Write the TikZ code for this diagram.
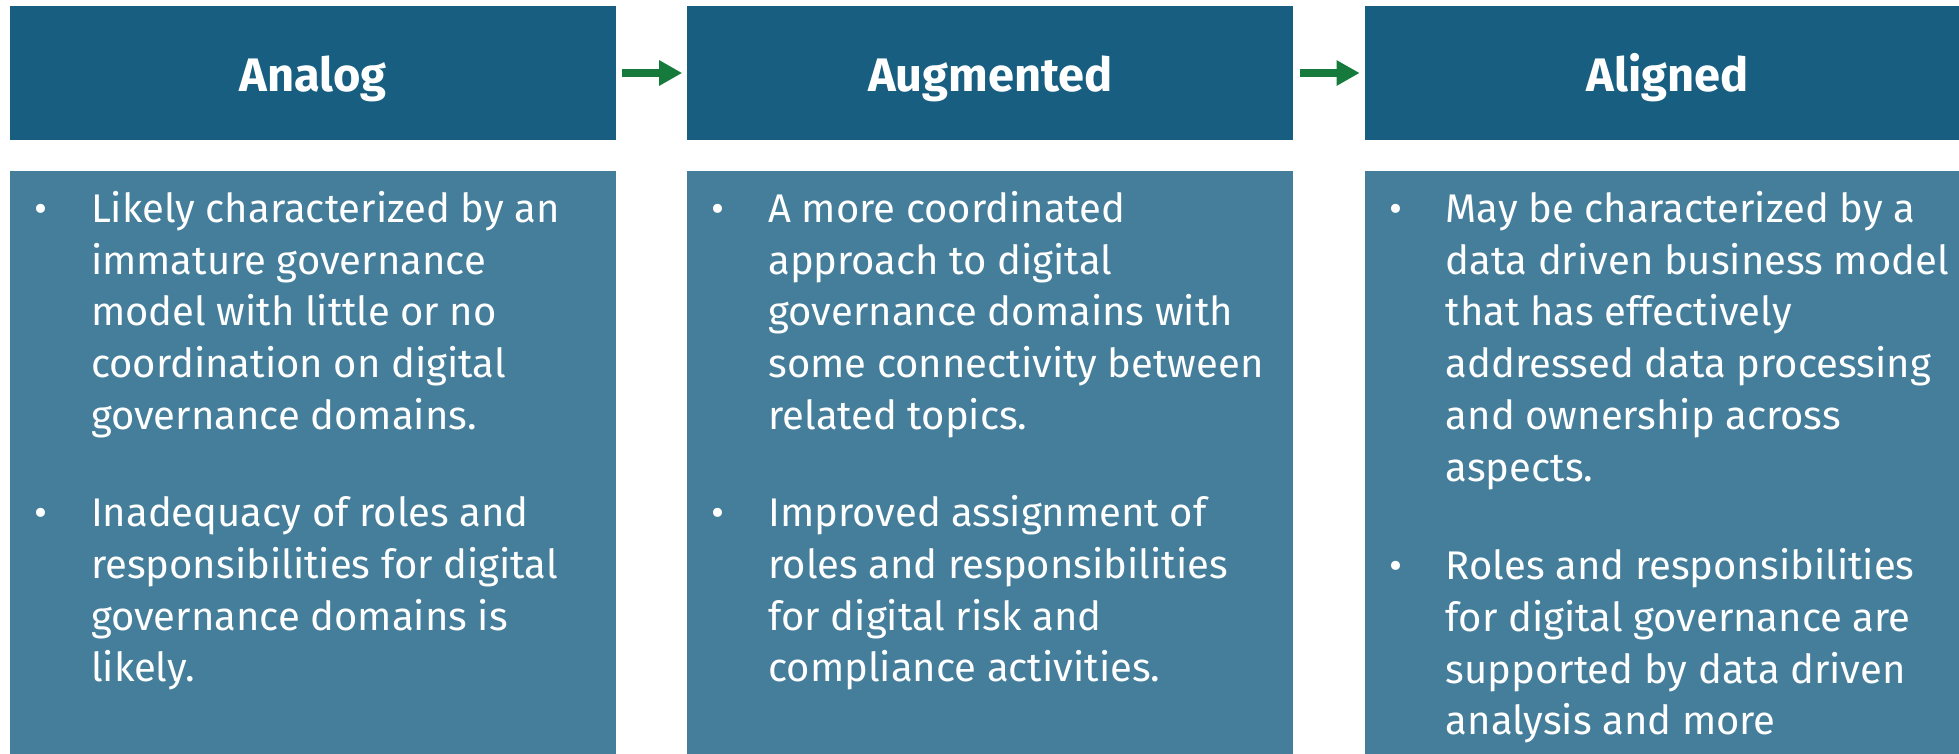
\documentclass[tikz,border=0pt]{standalone}
\usepackage{fontspec}
\setmainfont{Fira Sans}
\usetikzlibrary{positioning}
\usetikzlibrary{arrows.meta}
\definecolor{headblue}{RGB}{23,94,128}
\definecolor{bodyblue}{RGB}{68,126,155}
\definecolor{flowgreen}{RGB}{21,122,60}

\begin{document}
\begin{tikzpicture}[x=1pt, y=-1pt,
  head/.style={fill=headblue, text=white, minimum width=606pt, minimum height=134pt, inner sep=0pt, text height=36pt, text depth=0pt, font=\fontsize{47}{56}\selectfont\bfseries},
  body/.style={fill=bodyblue, minimum width=606pt, minimum height=620pt, inner sep=0pt},
  item/.style={text=white, anchor=north west, align=left, inner sep=0pt, font=\fontsize{40}{51.7}\selectfont},
  dot/.style={text=white, anchor=base, inner sep=0pt, font=\fontsize{40}{51.7}\selectfont},
  flow/.style={flowgreen, line width=8pt, -{Triangle[length=23pt,width=24pt]}}]
\clip (0,0) rectangle (1959,753);
\node[head] (h1) at (313,73) {Analog};
\node[head, right=71pt of h1] (h2) {Augmented};
\node[head, right=71pt of h2] (h3) {Aligned};
\node[body, below=31pt of h1] (b1) {};
\node[body, below=31pt of h2] (b2) {};
\node[body, below=31pt of h3] (b3) {};
\draw[flow] ([xshift=6pt]h1.east) -- ([xshift=-5pt]h2.west);
\draw[flow] ([xshift=6pt]h2.east) -- ([xshift=-5pt]h3.west);
% first column
\node[item] (t1a) at ([xshift=81pt, yshift=-15pt]b1.north west) {\strut Likely characterized by an\\immature governance\\model with little or no\\coordination on digital\\governance domains.};
\node[item] (t1b) at ([yshift=-304pt]t1a.north west) {\strut Inadequacy of roles and\\responsibilities for digital\\governance domains is\\likely.};
% second column
\node[item] (t2a) at ([xshift=81pt, yshift=-15pt]b2.north west) {\strut A more coordinated\\approach to digital\\governance domains with\\some connectivity between\\related topics.};
\node[item] (t2b) at ([yshift=-304pt]t2a.north west) {\strut Improved assignment of\\roles and responsibilities\\for digital risk and\\compliance activities.};
% third column
\node[item] (t3a) at ([xshift=81pt, yshift=-15pt]b3.north west) {\strut May be characterized by a\\data driven business model\\that has effectively\\addressed data processing\\and ownership across\\aspects.};
\node[item] (t3b) at ([yshift=-357pt]t3a.north west) {\strut Roles and responsibilities\\for digital governance are\\supported by data driven\\analysis and more};
\foreach \t in {t1a,t1b,t2a,t2b,t3a,t3b}
  \node[dot] (d\t) at ([xshift=-50pt, yshift=-36.2pt]\t.north west) {\textbullet};
\end{tikzpicture}
\end{document}
